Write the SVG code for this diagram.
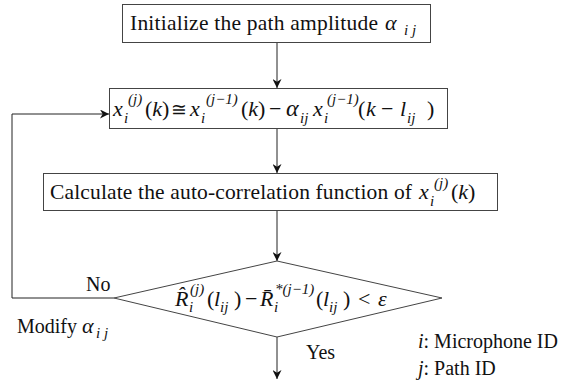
<svg xmlns="http://www.w3.org/2000/svg" width="566" height="383" viewBox="0 0 566 383">
<style>
.box{fill:#fff;stroke:#444;stroke-width:1}
.ln{fill:none;stroke:#222;stroke-width:1}
text{font-family:"Liberation Serif","Times New Roman",serif;fill:#111}
.t{font-size:21.5px}
.m{font-size:22px}
.it{font-style:italic}
.s{font-size:15px;font-style:italic}
.lb{font-size:20px}
</style>
<defs>
<marker id="ah" viewBox="0 0 10 10" refX="10" refY="5" markerWidth="9" markerHeight="9" markerUnits="userSpaceOnUse" orient="auto">
<path d="M0,0 L10,5 L0,10 L3,5 z" fill="#111"/>
</marker>
</defs>
<g id="connectors">
<line class="ln" x1="277" y1="42" x2="277" y2="88" marker-end="url(#ah)"/>
<line class="ln" x1="277" y1="128" x2="277" y2="173" marker-end="url(#ah)"/>
<line class="ln" x1="277" y1="210" x2="277" y2="261" marker-end="url(#ah)"/>
<line class="ln" x1="277" y1="337" x2="277" y2="379" marker-end="url(#ah)"/>
<polyline class="ln" points="114,298 12,298 12,114 109,114" marker-end="url(#ah)"/>
</g>
<g id="init">
<rect class="box" x="122.5" y="4.5" width="308" height="38"/>
<text class="t" x="130" y="30" textLength="248" lengthAdjust="spacing">Initialize the path amplitude</text>
<text class="m it" x="385" y="30" font-size="24px">α</text>
<text class="s" x="404" y="35">i j</text>
</g>
<g id="update">
<rect class="box" x="109.5" y="88.5" width="338" height="40"/>
<text class="m" y="116"><tspan class="it" x="113">x</tspan><tspan x="145">(</tspan><tspan class="it">k</tspan><tspan>)</tspan><tspan x="171" font-size="19px">≅</tspan><tspan class="it" x="190">x</tspan><tspan x="241">(</tspan><tspan class="it">k</tspan><tspan>)</tspan><tspan x="269">−</tspan><tspan class="it" x="286" font-size="24px">α</tspan><tspan class="it" x="313">x</tspan><tspan x="358">(</tspan><tspan class="it" x="366">k</tspan><tspan x="381">−</tspan><tspan class="it" x="400">l</tspan><tspan x="427">)</tspan></text>
<text class="s" y="123"><tspan x="124">i</tspan><tspan x="201">i</tspan><tspan x="300">ij</tspan><tspan x="324">i</tspan><tspan x="407">ij</tspan></text>
<text class="s" y="104"><tspan x="128">(j)</tspan><tspan x="206">(j−1)</tspan><tspan x="327">(j−1)</tspan></text>
</g>
<g id="calc">
<rect class="box" x="43.5" y="173.5" width="454" height="37"/>
<text class="t" x="50" y="199" textLength="362" lengthAdjust="spacing">Calculate the auto-correlation function of</text>
<text class="m" y="199"><tspan class="it" x="419">x</tspan><tspan x="451">(</tspan><tspan class="it">k</tspan><tspan>)</tspan></text>
<text class="s" x="430" y="206">i</text>
<text class="s" x="434" y="188">(j)</text>
</g>
<g id="decision">
<polygon class="box" points="114,298 277,261 442,298 277,337"/>
<text class="m" y="306"><tspan class="it" x="175">R̂</tspan><tspan x="207">(</tspan><tspan class="it" x="214">l</tspan><tspan x="234">)</tspan><tspan x="245">−</tspan><tspan class="it" x="260">R̄</tspan><tspan x="316">(</tspan><tspan class="it" x="323">l</tspan><tspan x="343">)</tspan><tspan x="358">&lt;</tspan><tspan class="it" x="378">ε</tspan></text>
<text class="s" y="312"><tspan x="189">i</tspan><tspan x="220">ij</tspan><tspan x="274">i</tspan><tspan x="329">ij</tspan></text>
<text class="s" y="294"><tspan x="190">(j)</tspan><tspan x="275">*(j−1)</tspan></text>
</g>
<g id="labels">
<text class="lb" x="86" y="291">No</text>
<text class="lb" x="306" y="359">Yes</text>
<text class="lb" x="17" y="333">Modify <tspan class="it" font-size="22px">α</tspan></text>
<text class="s" x="96" y="338">i j</text>
<text class="lb" x="418" y="348"><tspan class="it">i</tspan>: Microphone ID</text>
<text class="lb" x="418" y="375"><tspan class="it">j</tspan>: Path ID</text>
</g>
</svg>
